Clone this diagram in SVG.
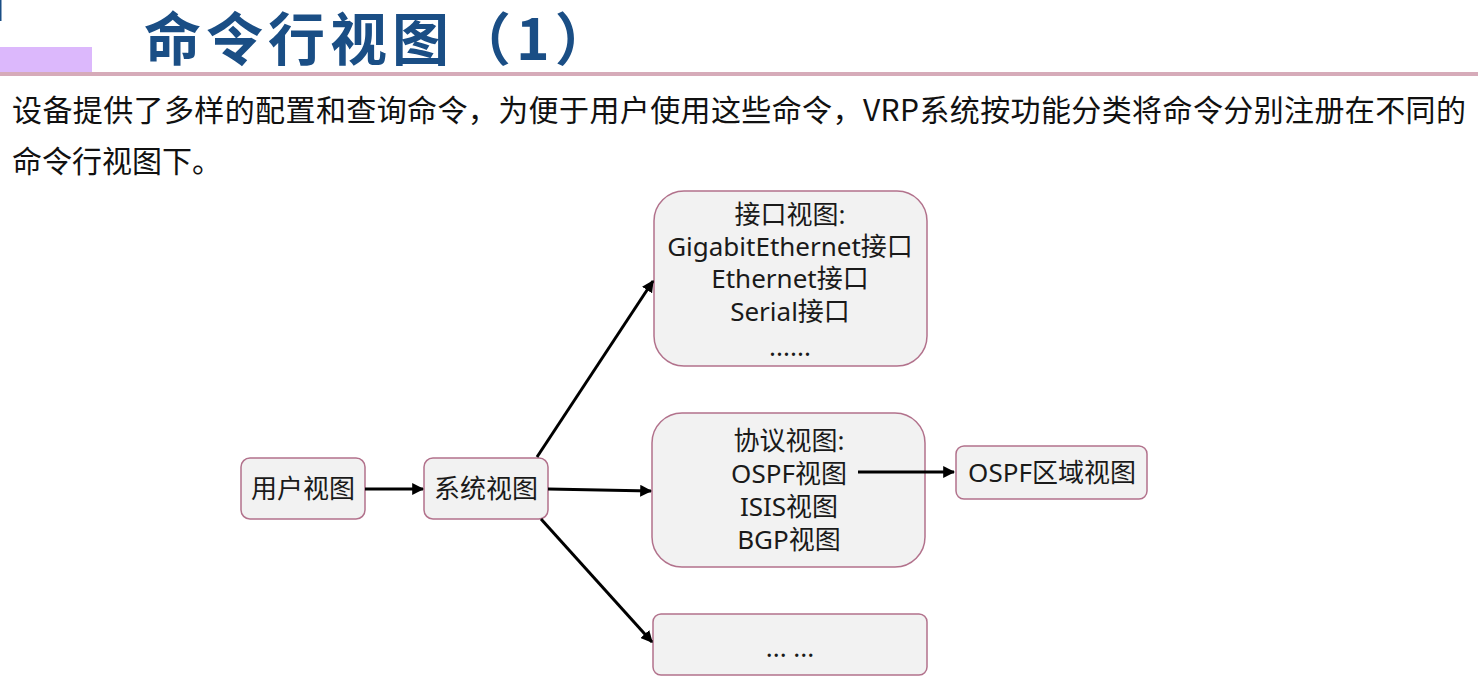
<svg xmlns="http://www.w3.org/2000/svg" width="1478" height="683" viewBox="0 0 1478 683">
<style>
.box{fill:#f2f2f2;stroke:#b2728c;stroke-width:1.5}
.t{font-family:"Noto Sans","Noto Sans CJK SC",sans-serif;font-size:26px;fill:#1a1a1a;text-anchor:middle}
.p{font-family:"Noto Sans CJK SC",sans-serif;font-size:30px;fill:#111}
.c{stroke:#000;stroke-width:3;fill:none;marker-end:url(#ah)}
</style>
<defs>
<marker id="ah" viewBox="0 0 10 10" refX="9" refY="5" markerWidth="4" markerHeight="4" orient="auto" markerUnits="strokeWidth">
<path d="M0,0 L10,5 L0,10 z" fill="#000"/>
</marker>
</defs>
<rect width="1478" height="683" fill="#fff"/>
<g id="header">
<rect x="0" y="0" width="1.5" height="21" fill="#1a4e85"/>
<rect x="0" y="47" width="92" height="26" fill="#dcb8fc"/>
<rect x="0" y="72" width="1478" height="4" fill="#d6abb9"/>
<text x="144" y="60" font-family="Noto Sans CJK SC,sans-serif" font-weight="bold" font-size="57" letter-spacing="5" fill="#1a4e85">命令行视图（1）</text>
</g>
<g id="intro">
<text class="p" x="12" y="121" textLength="1454" lengthAdjust="spacing">设备提供了多样的配置和查询命令，为便于用户使用这些命令，VRP系统按功能分类将命令分别注册在不同的</text>
<text class="p" x="12" y="172">命令行视图下。</text>
</g>
<g id="user-view">
<rect class="box" x="241" y="458" width="124" height="61" rx="9"/>
<text class="t" x="303" y="498">用户视图</text>
</g>
<g id="system-view">
<rect class="box" x="424" y="458" width="124" height="61" rx="9"/>
<text class="t" x="486" y="498">系统视图</text>
</g>
<g id="interface-view">
<rect class="box" x="654" y="191" width="273" height="175" rx="30"/>
<text class="t" x="790" y="224">接口视图:</text>
<text class="t" x="790" y="256">GigabitEthernet接口</text>
<text class="t" x="790" y="288">Ethernet接口</text>
<text class="t" x="790" y="321">Serial接口</text>
<text class="t" x="790" y="356">......</text>
</g>
<g id="protocol-view">
<rect class="box" x="652" y="413" width="273" height="154" rx="30"/>
<text class="t" x="789" y="450">协议视图:</text>
<text class="t" x="789" y="483">OSPF视图</text>
<text class="t" x="789" y="516">ISIS视图</text>
<text class="t" x="789" y="549">BGP视图</text>
</g>
<g id="ospf-area-view">
<rect class="box" x="956" y="446" width="191" height="53" rx="8"/>
<text class="t" x="1052" y="482">OSPF区域视图</text>
</g>
<g id="other-view">
<rect class="box" x="653" y="614" width="274" height="61" rx="8"/>
<text class="t" x="790" y="657">... ...</text>
</g>
<g id="connectors">
<line class="c" x1="365" y1="489" x2="423" y2="489"/>
<line class="c" x1="548" y1="489" x2="651" y2="491"/>
<line class="c" x1="537" y1="457" x2="653" y2="281"/>
<line class="c" x1="541" y1="519" x2="652" y2="642"/>
<line class="c" x1="858" y1="472" x2="954" y2="472"/>
</g>
</svg>
